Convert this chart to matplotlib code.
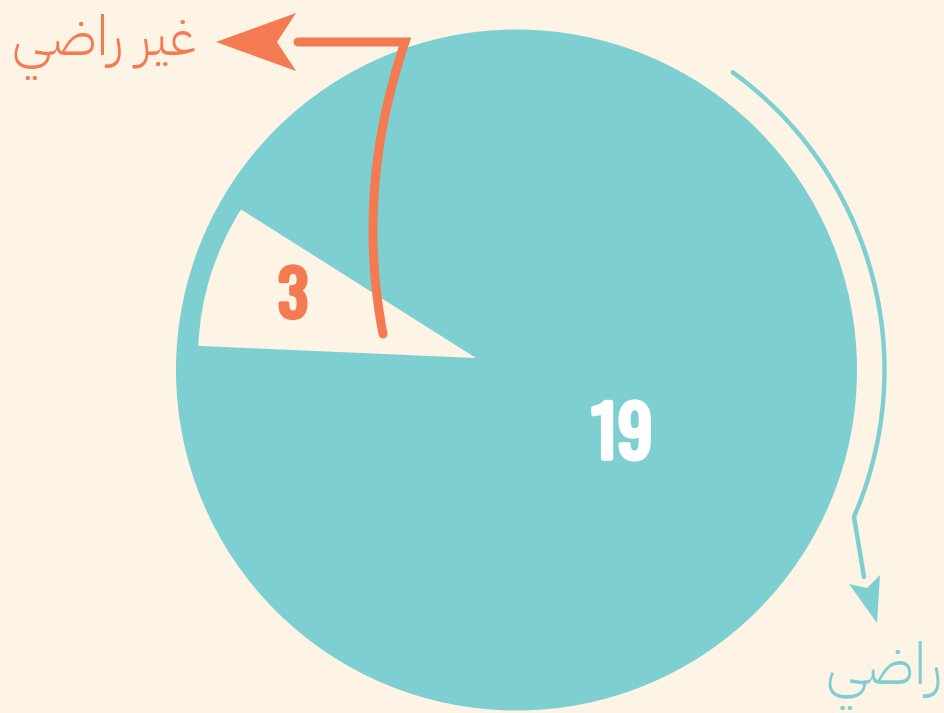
import matplotlib
matplotlib.use("Agg")
import matplotlib.pyplot as plt
from matplotlib.patches import Circle, Wedge, Polygon, PathPatch
from matplotlib.path import Path
import matplotlib.patheffects as pe
import numpy as np

# ---- data ----
categories = ["راضي", "غير راضي"]
values = [19, 3]
# visual (pre-shaped, left-to-right) forms of the Arabic labels
label_satisfied = "\uFEF2\uFEBF\uFE8D\uFEAD"                       # راضي
label_unsatisfied = "\uFEF2\uFEBF\uFE8D\uFEAD \uFEAE\uFEF4\uFECF"  # غير راضي

BG = "#FDF4E6"
TEAL = "#7ECFD1"
ORANGE = "#F47A52"

W, H = 944, 713
fig = plt.figure(figsize=(W / 100, H / 100), dpi=100)
fig.patch.set_facecolor(BG)
ax = fig.add_axes([0, 0, 1, 1])
ax.set_facecolor(BG)
ax.set_xlim(0, W)
ax.set_ylim(H, 0)
ax.set_aspect("equal")
ax.axis("off")

# main pie (teal full circle for majority)
cx, cy, R = 516.5, 370, 340.5
ax.add_patch(Circle((cx, cy), R, color=TEAL, lw=0, zorder=1))

# minority wedge cut out (y axis inverted -> angles mirrored)
wx, wy, wr = 476, 358, 278
ax.add_patch(Wedge((wx, wy), wr, 360 - 177.5, 360 - 147.7, color=BG, lw=0, zorder=2))

# value labels (condensed, heavy)
num_font = dict(family=["Oswald", "Liberation Sans Narrow", "DejaVu Sans"], weight="bold")
ax.text(293, 298, str(values[1]), color=ORANGE, fontsize=45, ha="center", va="center",
        zorder=5, path_effects=[pe.withStroke(linewidth=3, foreground=ORANGE)], **num_font)
ax.text(622, 437, str(values[0]), color="white", fontsize=50, ha="center", va="center",
        zorder=5, path_effects=[pe.withStroke(linewidth=3.5, foreground="white")], **num_font)

# orange arrow (unsatisfied)
verts = [(383, 334), (355, 190), (405, 42), (298, 42)]
codes = [Path.MOVETO, Path.CURVE3, Path.CURVE3, Path.LINETO]
ax.add_patch(PathPatch(Path(verts, codes), fill=False, ec=ORANGE, lw=6.5,
                       capstyle="round", joinstyle="miter", zorder=4))
ax.add_patch(Polygon([(216, 42), (296, 13), (277, 42), (296, 71)], closed=True,
                     color=ORANGE, lw=0, zorder=4))

# teal arrow (satisfied)
ar = 368
th = np.radians(np.linspace(54, -23.5, 200))
xs = list(cx + ar * np.cos(th)) + [864]
ys = list(cy - ar * np.sin(th)) + [577]
ax.plot(xs, ys, color=TEAL, lw=3.2, solid_capstyle="round", solid_joinstyle="miter", zorder=4)
ax.add_patch(Polygon([(877, 623), (849, 584), (867, 588), (880, 575)], closed=True,
                     color=TEAL, lw=0, zorder=4))

# category labels
arab = dict(family=["IBM Plex Sans Arabic", "DejaVu Sans"], weight=300)
ax.text(104, 55, label_unsatisfied, color=ORANGE, fontsize=40, ha="center", va="baseline",
        zorder=5, **arab)
ax.text(884, 684, label_satisfied, color=TEAL, fontsize=42, ha="center", va="baseline",
        zorder=5, **arab)

fig.savefig("out.png", dpi=100, facecolor=BG)
